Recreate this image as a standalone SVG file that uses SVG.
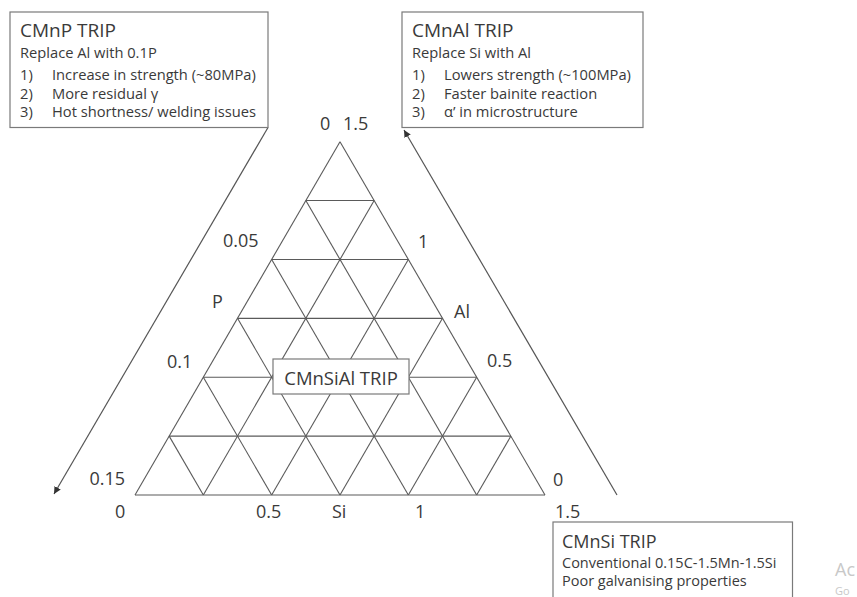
<svg xmlns="http://www.w3.org/2000/svg" width="857" height="597" viewBox="0 0 857 597">
<style>
text{font-family:"Open Sans","DejaVu Sans",sans-serif;fill:#3a3a3a}
.box{fill:#fff;stroke:#7a7a7a;stroke-width:1.2}
.title{font-size:19px}
.sub{font-size:14.7px}
.lab{font-size:18px}
.grid line{stroke:#5a5a5a;stroke-width:1.1}
.conn{stroke:#555;stroke-width:1.2;fill:none;marker-end:url(#ah)}
.wm{fill:#c8c8c8}
</style>
<defs>
<marker id="ah" viewBox="0 0 10 10" refX="10" refY="5" markerWidth="6" markerHeight="6" orient="auto" markerUnits="strokeWidth">
<path d="M0,0 L10,5 L0,10 z" fill="#333"/>
</marker>
</defs>
<rect width="857" height="597" fill="#fff"/>

<g id="triangle" class="grid">
<line x1="340" y1="141.67" x2="135" y2="495"/>
<line x1="340" y1="141.67" x2="545" y2="495"/>
<line x1="135" y1="495" x2="545" y2="495"/>
<line x1="305.83" y1="200.56" x2="374.17" y2="200.56"/>
<line x1="271.67" y1="259.44" x2="408.33" y2="259.44"/>
<line x1="237.5" y1="318.33" x2="442.5" y2="318.33"/>
<line x1="203.33" y1="377.22" x2="476.67" y2="377.22"/>
<line x1="169.17" y1="436.11" x2="510.83" y2="436.11"/>
<line x1="203.33" y1="495" x2="374.17" y2="200.56"/>
<line x1="271.67" y1="495" x2="408.33" y2="259.44"/>
<line x1="340" y1="495" x2="442.5" y2="318.33"/>
<line x1="408.33" y1="495" x2="476.67" y2="377.22"/>
<line x1="476.67" y1="495" x2="510.83" y2="436.11"/>
<line x1="203.33" y1="495" x2="169.17" y2="436.11"/>
<line x1="271.67" y1="495" x2="203.33" y2="377.22"/>
<line x1="340" y1="495" x2="237.5" y2="318.33"/>
<line x1="408.33" y1="495" x2="271.67" y2="259.44"/>
<line x1="476.67" y1="495" x2="305.83" y2="200.56"/>
</g>

<g id="axis-labels" class="lab">
<text class="lab" x="320" y="130">0</text>
<text class="lab" x="343" y="130">1.5</text>
<text class="lab" x="223" y="247">0.05</text>
<text class="lab" x="418" y="248">1</text>
<text class="lab" x="212" y="308">P</text>
<text class="lab" x="454" y="318">Al</text>
<text class="lab" x="167" y="368">0.1</text>
<text class="lab" x="487" y="367">0.5</text>
<text class="lab" x="125" y="485" text-anchor="end">0.15</text>
<text class="lab" x="553" y="486">0</text>
<text class="lab" x="115" y="518">0</text>
<text class="lab" x="256" y="518">0.5</text>
<text class="lab" x="332" y="518">Si</text>
<text class="lab" x="415" y="518">1</text>
<text class="lab" x="555" y="518">1.5</text>
</g>

<g id="connectors">
<line class="conn" x1="268" y1="127.5" x2="54" y2="494"/>
<line class="conn" x1="617" y1="495" x2="404" y2="130"/>
</g>

<g id="node-cmnp">
<rect class="box" x="10" y="12" width="258" height="115.5"/>
<text class="title" x="20" y="37">CMnP TRIP</text>
<text class="sub" x="20" y="58">Replace Al with 0.1P</text>
<text class="sub" x="20" y="80">1)</text>
<text class="sub" x="52" y="80">Increase in strength (~80MPa)</text>
<text class="sub" x="20" y="98.5">2)</text>
<text class="sub" x="52" y="98.5">More residual γ</text>
<text class="sub" x="20" y="117">3)</text>
<text class="sub" x="52" y="117">Hot shortness/ welding issues</text>
</g>

<g id="node-cmnal">
<rect class="box" x="402" y="12" width="241" height="115.5"/>
<text class="title" x="412" y="37">CMnAl TRIP</text>
<text class="sub" x="412" y="58">Replace Si with Al</text>
<text class="sub" x="412" y="80">1)</text>
<text class="sub" x="444" y="80">Lowers strength (~100MPa)</text>
<text class="sub" x="412" y="98.5">2)</text>
<text class="sub" x="444" y="98.5">Faster bainite reaction</text>
<text class="sub" x="412" y="117">3)</text>
<text class="sub" x="444" y="117">α’ in microstructure</text>
</g>

<g id="node-cmnsial">
<rect class="box" x="273" y="359" width="136" height="35"/>
<text x="341" y="385" text-anchor="middle" style="font-size:18.5px">CMnSiAl TRIP</text>
</g>

<g id="node-cmnsi">
<rect class="box" x="553" y="522" width="239.5" height="80"/>
<text x="562" y="548" style="font-size:18px">CMnSi TRIP</text>
<text class="sub" x="562" y="568" style="font-size:14.5px">Conventional 0.15C-1.5Mn-1.5Si</text>
<text class="sub" x="562" y="586" style="font-size:14.5px">Poor galvanising properties</text>
</g>

<g id="watermark">
<text class="wm" x="835" y="576" style="font-size:18px">Ac</text>
<text class="wm" x="835" y="595" style="font-size:11px">Go</text>
</g>
</svg>
